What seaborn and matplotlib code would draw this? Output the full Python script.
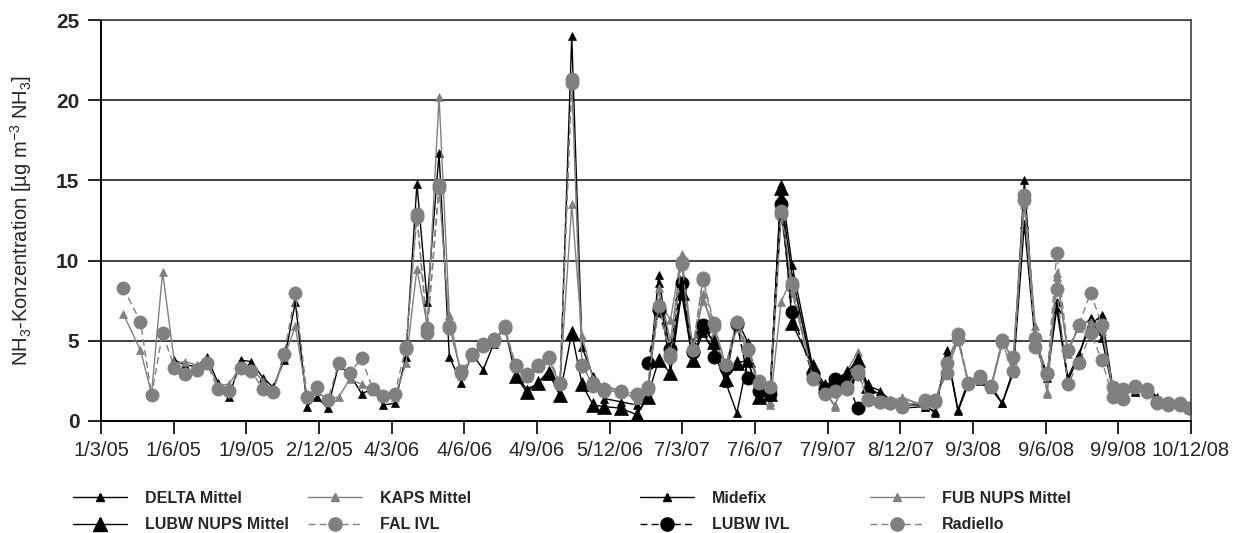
import numpy as np
import pandas as pd
import matplotlib
matplotlib.use("Agg")
import matplotlib.pyplot as plt
import matplotlib.dates as mdates
from matplotlib.ticker import FuncFormatter
from matplotlib.lines import Line2D
from matplotlib.font_manager import FontProperties, fontManager
import seaborn as sns

# Sampling dates (two-week exposure periods)
sample_dates = [
    "2005-03-29", "2005-04-20", "2005-05-04", "2005-05-18", "2005-06-02", "2005-06-15", "2005-06-30", "2005-07-13", "2005-07-27", "2005-08-10",
    "2005-08-25", "2005-09-07", "2005-09-22", "2005-10-05", "2005-10-19", "2005-11-02", "2005-11-17", "2005-11-29", "2005-12-13", "2005-12-27",
    "2006-01-10", "2006-01-25", "2006-02-08", "2006-02-21", "2006-03-08", "2006-03-22", "2006-04-05", "2006-04-18", "2006-05-03", "2006-05-16",
    "2006-05-31", "2006-06-14", "2006-06-28", "2006-07-11", "2006-07-25", "2006-08-08", "2006-08-22", "2006-09-05", "2006-09-19", "2006-10-03",
    "2006-10-18", "2006-10-31", "2006-11-14", "2006-11-28", "2006-12-19", "2007-01-08", "2007-01-22", "2007-02-05", "2007-02-20", "2007-03-06",
    "2007-03-20", "2007-04-02", "2007-04-16", "2007-05-01", "2007-05-15", "2007-05-29", "2007-06-12", "2007-06-26", "2007-07-10", "2007-07-24",
    "2007-08-19", "2007-09-04", "2007-09-16", "2007-10-01", "2007-10-15", "2007-10-28", "2007-11-12", "2007-11-25", "2007-12-10", "2008-01-08",
    "2008-01-21", "2008-02-05", "2008-02-19", "2008-03-03", "2008-03-18", "2008-04-01", "2008-04-15", "2008-04-29", "2008-05-13", "2008-05-27",
    "2008-06-11", "2008-06-23", "2008-07-07", "2008-07-21", "2008-08-05", "2008-08-19", "2008-09-02", "2008-09-15", "2008-09-30", "2008-10-15",
    "2008-10-28", "2008-11-11", "2008-11-26", "2008-12-07",
]

N = None

# NH3 concentrations in µg m-3 per sampler (None = no measurement)
delta_mittel = [
    N, N, N, N, 3.8, 3.5, 3.4, 4.0, 2.4, 1.5,
    3.8, 3.7, 2.7, 2.1, 3.8, 7.4, 0.9, 1.5, 0.8, 3.5,
    2.9, 1.7, 2.0, 1.0, 1.1, 4.0, 14.8, 7.4, 16.7, 4.0,
    2.4, 4.2, 3.2, 4.8, 5.9, 2.8, 2.0, 2.3, 3.2, 1.7,
    24.0, 4.6, 2.8, 1.4, 1.2, 1.0, 1.6, 9.1, 4.0, 8.0,
    4.9, 5.9, 4.9, 2.6, 6.3, 4.9, 1.8, 1.7, 14.8, 9.7,
    3.4, 2.2, 2.6, 3.0, 3.8, 2.2, 1.9, 1.3, 1.0, 1.0,
    0.5, 4.4, 0.7, 2.5, 2.7, 2.2, 1.1, 3.2, 15.0, 5.0,
    2.9, 7.4, 2.7, 4.2, 6.0, 6.6, 2.1, 2.0, 1.9, 2.1,
    1.5, 1.2, 1.1, 0.9,
]

kaps_mittel = [
    6.7, 4.4, 1.7, 9.3, 3.6, 3.7, 3.5, 3.8, 2.2, 2.3,
    3.4, 3.3, 2.5, 1.9, 4.0, 5.9, 1.4, 1.9, 1.3, 1.5,
    2.6, 2.3, 1.9, 1.5, 1.5, 3.6, 9.5, 6.0, 20.2, 6.6,
    2.8, 4.0, 4.6, 5.0, 5.8, 3.3, 2.7, 3.3, 3.8, 2.3,
    13.5, 5.3, 2.6, 2.2, 1.9, 1.3, 2.0, 7.5, 6.3, 10.4,
    4.6, 7.5, 6.0, 3.4, 6.0, 4.2, 2.2, 1.0, 7.4, 9.0,
    2.9, 1.8, 0.9, 3.1, 4.3, 1.5, 1.3, 1.2, 1.5, 0.9,
    1.3, 3.4, 5.2, 2.4, 2.7, 2.2, 5.0, 3.8, 13.9, 5.9,
    1.7, 9.2, 4.4, 5.8, 6.4, 5.6, 2.0, 1.9, 2.1, 1.9,
    1.1, 1.2, 1.0, 0.8,
]

midefix = [
    N, N, N, N, N, N, N, N, N, N,
    N, N, N, N, N, N, N, N, N, N,
    N, N, N, N, N, N, N, N, N, N,
    N, N, N, N, N, N, N, N, N, N,
    N, N, N, N, N, 0.4, 1.4, 8.6, 3.0, 8.4,
    3.8, 5.5, 4.3, 2.4, 0.5, 3.8, 1.5, 1.6, 14.1, 9.0,
    3.2, 2.0, 2.4, 2.7, 3.6, 2.0, 1.7, 1.2, 0.8, 0.9,
    0.6, 4.2, 0.6, 2.3, 2.5, 2.0, 1.1, 3.0, 12.3, 4.8,
    2.7, 7.0, 2.5, 4.0, 6.4, 5.2, 1.9, 1.9, 1.8, 2.0,
    1.4, 1.1, 1.0, 0.8,
]

fub_nups_mittel = [
    N, N, N, N, N, N, N, N, N, N,
    N, N, N, N, N, N, N, N, N, N,
    N, N, N, N, N, N, N, N, N, N,
    N, N, N, N, N, N, N, N, N, N,
    N, N, N, N, N, 1.3, 1.9, 8.3, 5.0, 10.2,
    4.0, 7.9, 5.4, 3.2, 5.8, 4.6, 2.0, 1.2, 12.8, 8.0,
    2.8, 1.8, 1.0, 2.6, 4.0, 1.4, 1.3, 1.1, 1.4, 1.0,
    1.2, 3.2, 5.0, 2.5, 2.6, 2.1, 4.8, 4.0, 13.5, 5.5,
    1.8, 9.0, 4.2, 6.0, 6.2, 5.8, 1.9, 1.9, 2.0, 2.0,
    1.2, 1.1, 1.0, 0.8,
]

lubw_nups_mittel = [
    N, N, N, N, N, N, N, N, N, N,
    N, N, N, N, N, N, N, N, N, N,
    N, N, N, N, N, N, N, N, N, N,
    N, N, N, N, N, 2.8, 1.8, 2.4, 3.0, 1.6,
    5.5, 2.3, 1.0, 0.9, 0.8, 0.4, 1.5, 3.8, 3.0, 8.0,
    3.8, 5.9, 4.9, 2.6, 3.6, 3.8, 1.5, 1.7, 14.5, 6.1,
    3.4, 2.2, 2.5, 3.0, 3.8, 2.2, N, N, N, N,
    N, N, N, N, N, N, N, N, N, N,
    N, N, N, N, N, N, N, N, N, N,
    N, N, N, N,
]

fal_ivl = [
    N, N, N, N, N, N, N, N, N, N,
    N, N, N, N, N, N, N, N, N, N,
    N, N, N, N, N, 4.5, 12.7, 5.5, 14.5, 5.8,
    3.1, 4.1, 4.8, 5.1, 5.8, 3.5, 2.8, 3.4, 3.9, 2.3,
    21.1, 3.5, 2.2, 1.9, 1.8, 1.6, 2.0, 7.0, 4.0, 9.8,
    4.3, 8.8, 5.9, 3.4, 6.0, 4.4, 2.5, 2.0, 12.9, 8.4,
    2.6, 1.8, 1.9, 2.0, 2.9, 1.4, 1.2, 1.1, 1.0, 1.2,
    1.3, 3.0, 5.1, 2.3, 2.8, 2.1, 4.9, 3.1, 13.8, 4.6,
    3.0, 8.2, 2.3, 3.6, 5.5, 3.8, 1.5, 1.4, 2.1, 1.8,
    1.2, 1.0, 1.1, 0.8,
]

lubw_ivl = [
    N, N, N, N, N, N, N, N, N, N,
    N, N, N, N, N, N, N, N, N, N,
    N, N, N, N, N, N, N, N, N, N,
    N, N, N, N, N, N, N, N, N, N,
    N, N, N, N, N, N, 3.6, 6.9, 4.5, 8.6,
    4.3, 6.0, 4.0, 3.3, 6.1, 2.7, 1.9, 1.7, 13.5, 6.8,
    2.9, 2.0, 2.6, 2.5, 0.8, N, N, N, N, N,
    N, N, N, N, N, N, N, N, N, N,
    N, N, N, N, N, N, N, N, N, N,
    N, N, N, N,
]

radiello = [
    8.3, 6.2, 1.6, 5.5, 3.3, 2.9, 3.2, 3.6, 2.0, 1.9,
    3.3, 3.1, 2.0, 1.8, 4.2, 8.0, 1.5, 2.1, 1.3, 3.6,
    3.0, 3.9, 2.0, 1.55, 1.7, 4.6, 12.9, 5.8, 14.7, 5.9,
    3.0, 4.2, 4.7, 5.0, 5.9, 3.4, 2.9, 3.5, 4.0, 2.4,
    21.3, 3.4, 2.4, 2.0, 1.9, 1.7, 2.1, 7.2, 4.2, 9.9,
    4.4, 8.9, 6.1, 3.5, 6.2, 4.5, 2.4, 2.1, 13.1, 8.6,
    2.7, 1.7, 1.9, 2.1, 3.1, 1.3, 1.2, 1.1, 0.9, 1.3,
    1.2, 3.6, 5.4, 2.4, 2.7, 2.2, 5.05, 4.0, 14.1, 5.2,
    2.9, 10.5, 4.4, 6.0, 8.0, 6.0, 2.1, 2.0, 2.2, 2.0,
    1.1, 1.1, 1.0, 0.8,
]

# Axis tick dates and range
tick_dates = [
    "2005-03-01", "2005-06-01", "2005-09-01", "2005-12-02", "2006-03-04", "2006-06-04",
    "2006-09-04", "2006-12-05", "2007-03-07", "2007-06-07", "2007-09-07", "2007-12-08",
    "2008-03-09", "2008-06-09", "2008-09-09", "2008-12-10",
]
y_ticks = [0, 5, 10, 15, 20, 25]

GRAY = "#808080"
DASH = (0, (5, 3))

# name, values, colour, marker, marker size, line style
series = [
    ("DELTA Mittel", delta_mittel, "black", "^", 5.5, "-"),
    ("KAPS Mittel", kaps_mittel, GRAY, "^", 5.5, "-"),
    ("Midefix", midefix, "black", "^", 5.5, "-"),
    ("FUB NUPS Mittel", fub_nups_mittel, GRAY, "^", 5.5, "-"),
    ("LUBW NUPS Mittel", lubw_nups_mittel, "black", "^", 9.5, "-"),
    ("FAL IVL", fal_ivl, GRAY, "o", 9.5, DASH),
    ("LUBW IVL", lubw_ivl, "black", "o", 9.5, DASH),
    ("Radiello", radiello, GRAY, "o", 9.5, DASH),
]

sns.set_style("white")
plt.rcParams["font.family"] = ["Liberation Sans", "DejaVu Sans"]
plt.rcParams["mathtext.fontset"] = "custom"
plt.rcParams["mathtext.rm"] = "Liberation Sans"
plt.rcParams["mathtext.it"] = "Liberation Sans"
plt.rcParams["mathtext.bf"] = "Liberation Sans:bold"

W, H = 1242, 533
fig = plt.figure(figsize=(W / 100, H / 100), dpi=100)
fig.patch.set_facecolor("white")
ax = fig.add_axes([101 / W, 1 - 421 / H, 1090 / W, 401 / H])

dates = pd.to_datetime(sample_dates)
handles = {}
for name, vals, color, marker, ms, ls in series:
    df = pd.DataFrame({"Datum": dates, "NH3": pd.Series(vals, dtype=float)}).dropna()
    sns.lineplot(data=df, x="Datum", y="NH3", ax=ax, sort=False, estimator=None,
                 color=color, marker=marker, markersize=ms, markeredgecolor=color,
                 markeredgewidth=0.5, linewidth=1.0, linestyle=ls, legend=False)
    handles[name] = Line2D([], [], color=color, marker=marker, markersize=ms,
                           markeredgecolor=color, linewidth=1.0, linestyle=ls)

# Axes
ax.set_ylim(0, 25)
ax.set_xlim(pd.Timestamp("2005-03-01"), pd.Timestamp("2008-12-10"))
ax.set_yticks(y_ticks)
ax.set_xticks(pd.to_datetime(tick_dates))
ax.xaxis.set_major_formatter(FuncFormatter(
    lambda v, pos: (lambda d: f"{d.day}/{d.month}/{d:%y}")(mdates.num2date(v))))
ax.grid(axis="y", color="#404040", linewidth=1.4)
ax.grid(axis="x", visible=False)
ax.set_axisbelow(True)
for side in ["left", "bottom"]:
    ax.spines[side].set_color("black")
    ax.spines[side].set_linewidth(1.4)
for side in ["top", "right"]:
    ax.spines[side].set_color("#404040")
    ax.spines[side].set_linewidth(1.2)
ax.tick_params(axis="both", direction="out", length=9.5, width=1.2, color="black",
               bottom=True, left=True)
ax.tick_params(axis="x", labelsize=14.5, pad=5)
ax.tick_params(axis="y", labelsize=15, pad=6)
for lbl in ax.get_yticklabels():
    lbl.set_fontweight("bold")
ax.set_xlabel("")
ax.set_ylabel(r"NH$_3$-Konzentration [µg m$^{-3}$ NH$_3$]", fontsize=14.5)
ax.yaxis.set_label_coords((34 - 101) / 1090, 0.5)

# Legend: four columns, two rows; a narrow bold face when one is installed
installed = {f.name for f in fontManager.ttflist}
legend_family = "Liberation Sans Narrow" if "Liberation Sans Narrow" in installed else "Liberation Sans"
legend_font = FontProperties(family=legend_family, weight="bold",
                             size=13 if legend_family.endswith("Narrow") else 11.5)
columns = [
    (73, ["DELTA Mittel", "LUBW NUPS Mittel"]),
    (308, ["KAPS Mittel", "FAL IVL"]),
    (640, ["Midefix", "LUBW IVL"]),
    (870, ["FUB NUPS Mittel", "Radiello"]),
]
for x0, names in columns:
    fig.legend([handles[n] for n in names], names, loc="upper left",
               bbox_to_anchor=(x0 / W, 1 - 491 / H), frameon=False, borderpad=0,
               borderaxespad=0, handlelength=3.4, handletextpad=1.1,
               labelspacing=0.7, prop=legend_font, numpoints=1)

fig.savefig("out.png", dpi=100, facecolor="white")
